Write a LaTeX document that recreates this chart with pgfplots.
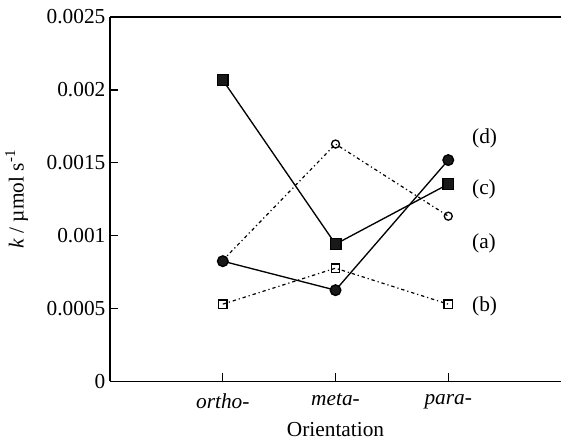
\documentclass[border=0pt]{standalone}
\usepackage{pgfplots}
\pgfplotsset{compat=1.18}
\usepackage{fontspec}
\setmainfont{Liberation Serif}

% rate constants k (umol s^-1) at the three substituent positions
\pgfplotstableread{
x    a         b         c         d
1    0.00083   0.000529  0.002067  0.000824
2    0.001628  0.000776  0.000941  0.000625
3    0.001133  0.000529  0.001353  0.001518
}\ratedata

\begin{document}
\begin{tikzpicture}
\begin{axis}[
  name=main,
  width=338pt, height=273pt, scale only axis,
  xmin=0, xmax=4, ymin=0, ymax=0.0025,
  axis x line=bottom, axis y line=left,
  axis line style={-, line width=1pt},
  xtick={1,2,3},
  xticklabels={\textit{ortho-},\textit{meta-},\textit{para-}},
  ytick={0,0.0005,0.001,0.0015,0.002,0.0025},
  yticklabels={0,0.0005,0.001,0.0015,0.002,0.0025},
  scaled y ticks=false,
  tick align=inside, major tick length=6pt,
  tick style={line width=1pt, black},
  font=\fontsize{16}{19}\selectfont,
  xticklabel style={yshift=-6pt},
  xlabel={Orientation},
  xlabel style={yshift=-3pt},
  ylabel={\textit{k} / µmol s\textsuperscript{-1}},
  ylabel style={yshift=7pt},
  clip=false,
]
  % open symbols, broken lines
  \addplot[black, line width=0.9pt, dash pattern=on 2.5pt off 2.2pt on 0.9pt off 2.2pt,
           mark=o, mark size=3pt, mark options={solid, fill=white, line width=1pt}]
    table[x=x, y=a] {\ratedata};
  \addplot[black, line width=0.9pt, dash pattern=on 2.5pt off 2.2pt on 0.9pt off 2.2pt,
           mark=square, mark size=3.2pt, mark options={solid, fill=white, line width=1pt}]
    table[x=x, y=b] {\ratedata};
  % filled symbols, solid lines
  \addplot[black, line width=1pt, mark=square*, mark size=4pt,
           mark options={fill=black!90}]
    table[x=x, y=c] {\ratedata};
  \addplot[black, line width=1pt, mark=*, mark size=4pt,
           mark options={fill=black!90}]
    table[x=x, y=d] {\ratedata};

  \node[anchor=west] at (axis cs:3.17,0.001669) {(d)};
  \node[anchor=west] at (axis cs:3.17,0.001319) {(c)};
  \node[anchor=west] at (axis cs:3.17,0.000948) {(a)};
  \node[anchor=west] at (axis cs:3.17,0.000515) {(b)};

  \draw[line width=1pt] (rel axis cs:0,1) -- (rel axis cs:1,1);
\end{axis}
\pgfresetboundingbox
\path[use as bounding box] (main.origin) ++(-82.5pt,-46.5pt) rectangle ([yshift=12.75pt]main.north east);
\end{tikzpicture}
\end{document}
